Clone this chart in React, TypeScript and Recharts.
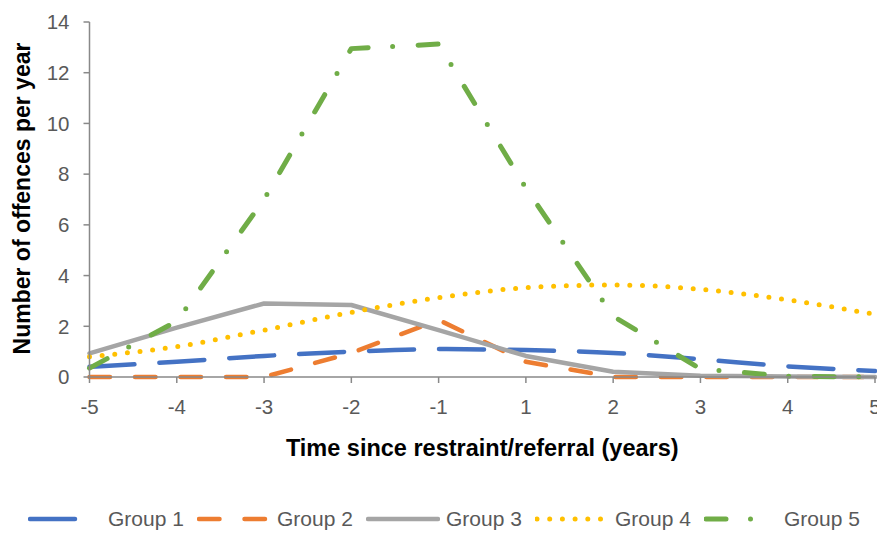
import { Legend, Line, LineChart, XAxis, YAxis } from "recharts";

const years = ["-5", "-4", "-3", "-2", "-1", "1", "2", "3", "4", "5"];
const group1 = [0.4, 0.6, 0.83, 1.0, 1.1, 1.06, 0.95, 0.7, 0.42, 0.24];
const group2 = [0, 0, 0, 0.95, 2.25, 0.6, 0, 0, 0, 0];
const group3 = [0.93, 1.95, 2.9, 2.84, 1.85, 0.83, 0.21, 0.05, 0.02, 0];
const group4 = [0.8, 1.2, 1.85, 2.55, 3.13, 3.52, 3.63, 3.46, 3.04, 2.47];
const group5 = [0.35, 2.2, 7.0, 12.95, 13.13, 7.45, 2.4, 0.32, 0.03, 0];
const yTicks = [0, 2, 4, 6, 8, 10, 12, 14];

const data = years.map((year, i) => ({
  year,
  group1: group1[i],
  group2: group2[i],
  group3: group3[i],
  group4: group4[i],
  group5: group5[i],
}));

const series = [
  { key: "group1", name: "Group 1", color: "#4472C4", dash: "45 25", width: 4.5, curve: "monotone" },
  { key: "group2", name: "Group 2", color: "#ED7D31", dash: "20.5 25", width: 4.5, curve: "linear" },
  { key: "group3", name: "Group 3", color: "#A5A5A5", dash: undefined, width: 4.5, curve: "linear" },
  { key: "group4", name: "Group 4", color: "#FFC000", dash: "0 12.7", width: 5, curve: "monotone" },
  { key: "group5", name: "Group 5", color: "#70AD47", dash: "20 24.5 0 25.5", width: 5, curve: "linear" },
];

const font = "'Liberation Sans', Arial, sans-serif";
const axisColor = "#898989";
const tickStyle = { fill: "#595959", fontSize: 20.5, fontFamily: font };

function LegendContent() {
  return (
    <div style={{ display: "flex", height: 28, alignItems: "center", paddingLeft: 28 }}>
      {series.map((s) => (
        <div key={s.key} style={{ width: 169, display: "flex", alignItems: "center" }}>
          <svg width={74} height={10}>
            <line
              x1={2}
              y1={5}
              x2={72}
              y2={5}
              stroke={s.color}
              strokeWidth={s.width}
              strokeDasharray={s.dash}
              strokeLinecap="round"
            />
          </svg>
          <span
            style={{
              marginLeft: 6,
              fontFamily: font,
              fontSize: 21,
              color: "#595959",
              whiteSpace: "nowrap",
            }}
          >
            {s.name}
          </span>
        </div>
      ))}
    </div>
  );
}

export default function App() {
  return (
    <div>
      <style>{`body{margin:0}`}</style>
      <LineChart
        width={877}
        height={533}
        data={data}
        margin={{ top: 22, right: 2, bottom: 0, left: 0 }}
      >
        <XAxis
          dataKey="year"
          interval={0}
          height={128}
          tickSize={6}
          tickMargin={16}
          tick={tickStyle}
          axisLine={{ stroke: axisColor, strokeWidth: 1.5 }}
          tickLine={{ stroke: axisColor, strokeWidth: 1.5 }}
          label={{
            content: ({ viewBox }: any) => (
              <text
                x={viewBox.x + viewBox.width / 2}
                y={viewBox.y + 79}
                textAnchor="middle"
                fontFamily={font}
                fontSize={23.5}
                fontWeight="bold"
                fill="#000"
              >
                Time since restraint/referral  (years)
              </text>
            ),
          }}
        />
        <YAxis
          domain={[0, 14]}
          ticks={yTicks}
          width={89.5}
          tickSize={6}
          tickMargin={14}
          tick={tickStyle}
          axisLine={{ stroke: axisColor, strokeWidth: 1.5 }}
          tickLine={{ stroke: axisColor, strokeWidth: 1.5 }}
          label={{
            content: ({ viewBox }: any) => {
              const cx = 22;
              const cy = viewBox.y + viewBox.height / 2 - 1;
              return (
                <text
                  x={cx}
                  y={cy}
                  transform={`rotate(-90 ${cx} ${cy})`}
                  textAnchor="middle"
                  dominantBaseline="central"
                  fontFamily={font}
                  fontSize={23}
                  fontWeight="bold"
                  fill="#000"
                >
                  Number of offences per year
                </text>
              );
            },
          }}
        />
        <Legend verticalAlign="bottom" content={<LegendContent />} />
        {series.map((s) => (
          <Line
            key={s.key}
            dataKey={s.key}
            name={s.name}
            type={s.curve as any}
            stroke={s.color}
            strokeWidth={s.width}
            strokeDasharray={s.dash}
            strokeLinecap="round"
            strokeLinejoin="round"
            dot={false}
            activeDot={false}
            isAnimationActive={false}
          />
        ))}
      </LineChart>
    </div>
  );
}
